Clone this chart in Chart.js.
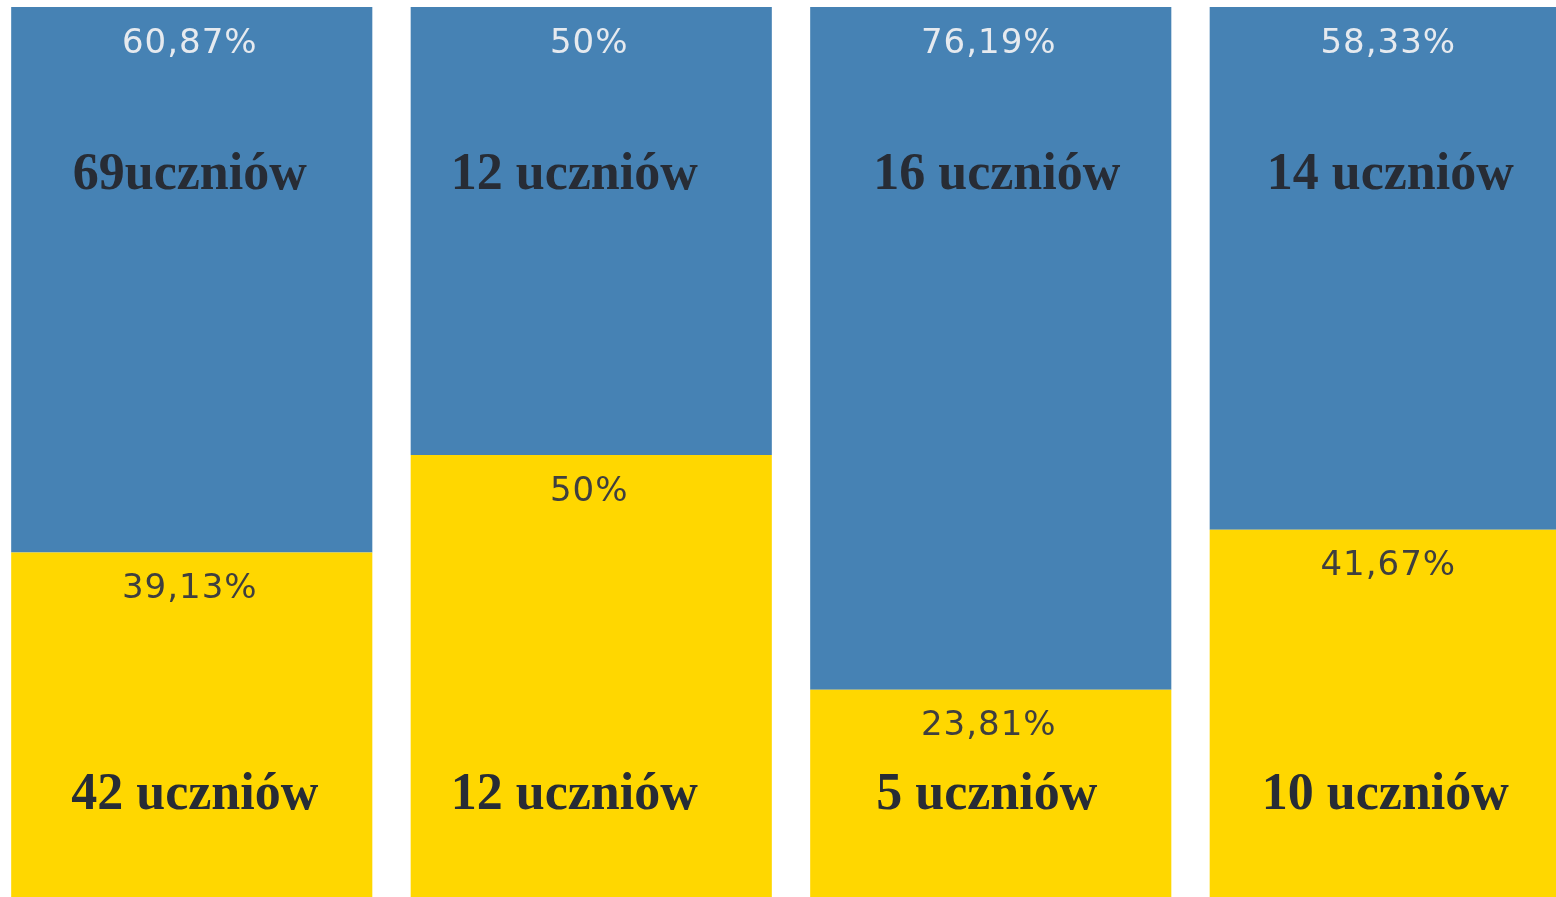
<!DOCTYPE html>
<html lang="pl">
<head>
<meta charset="utf-8">
<title>Uczniowie</title>
<script src="https://cdn.jsdelivr.net/npm/chart.js@4/dist/chart.umd.min.js"></script>
<style>
    html, body{ margin:0; padding:0; background:#fff; overflow:hidden; width:1556px; height:897px; }
    #wykres{ position:absolute; left:-8px; top:0; }
</style>
</head>
<body>
<canvas id="wykres" width="1598" height="903"></canvas>
<script>
// dane
const kategorie = ["1", "2", "3", "4"];
const procentNiebieskie = [60.87, 50, 76.19, 58.33];
const procentZolte = [39.13, 50, 23.81, 41.67];
const etykietyNiebieskie = ["69uczniów", "12 uczniów", "16 uczniów", "14 uczniów"];
const etykietyZolte = ["42 uczniów", "12 uczniów", "5 uczniów", "10 uczniów"];

function procent(v){
    return String(v).replace(".", ",") + "%";
}

// przesuniecie napisow w poziomie (jak na oryginale)
const przesuniecieN = [-2, -17, 6, 0];
const przesuniecieZ = [3, -17, -4, -5];

const napisy = {
    id: "napisy",
    afterDatasetsDraw(chart){
        let ctx = chart.ctx;
        let zolte = chart.getDatasetMeta(0).data;
        let niebieskie = chart.getDatasetMeta(1).data;
        ctx.save();
        ctx.textAlign = "center";
        ctx.textBaseline = "middle";
        for(let i = 0; i < kategorie.length; i++){
            let z = zolte[i];
            let n = niebieskie[i];
            // procenty
            ctx.font = '34px "DejaVu Sans"';
            ctx.letterSpacing = "1px";
            ctx.fillStyle = "#e6eaef";
            ctx.fillText(procent(procentNiebieskie[i]), n.x - 2, n.y + 37);
            ctx.fillStyle = "#3f3f3f";
            ctx.fillText(procent(procentZolte[i]), z.x - 2, z.y + 37);
            // liczba uczniow
            ctx.letterSpacing = "0px";
            ctx.font = 'bold 52px "Liberation Serif"';
            ctx.fillStyle = "#272c35";
            ctx.fillText(etykietyNiebieskie[i], n.x + przesuniecieN[i], n.y + 169);
            ctx.fillText(etykietyZolte[i], z.x + przesuniecieZ[i], z.base - 107);
        }
        ctx.restore();
    }
};

window.onload = function(){
    let ctx = document.getElementById("wykres").getContext("2d");
    let wykres = new Chart(ctx, {
        type: "bar",
        data: {
            labels: kategorie,
            datasets: [{
                label: "żółte",
                data: procentZolte,
                backgroundColor: "#FFD700",
                borderWidth: 0
            }, {
                label: "niebieskie",
                data: procentNiebieskie,
                backgroundColor: "#4682B4",
                borderWidth: 0
            }]
        },
        options: {
            responsive: false,
            animation: false,
            devicePixelRatio: 1,
            layout: { padding: { top: 7, left: 0, right: 0, bottom: 0 } },
            datasets: { bar: { barPercentage: 0.904, categoryPercentage: 1 } },
            plugins: { legend: { display: false }, tooltip: { enabled: false } },
            scales: {
                x: { stacked: true, display: false },
                y: { stacked: true, display: false, min: 0, max: 100 }
            }
        },
        plugins: [napisy]
    });
};
</script>
</body>
</html>
